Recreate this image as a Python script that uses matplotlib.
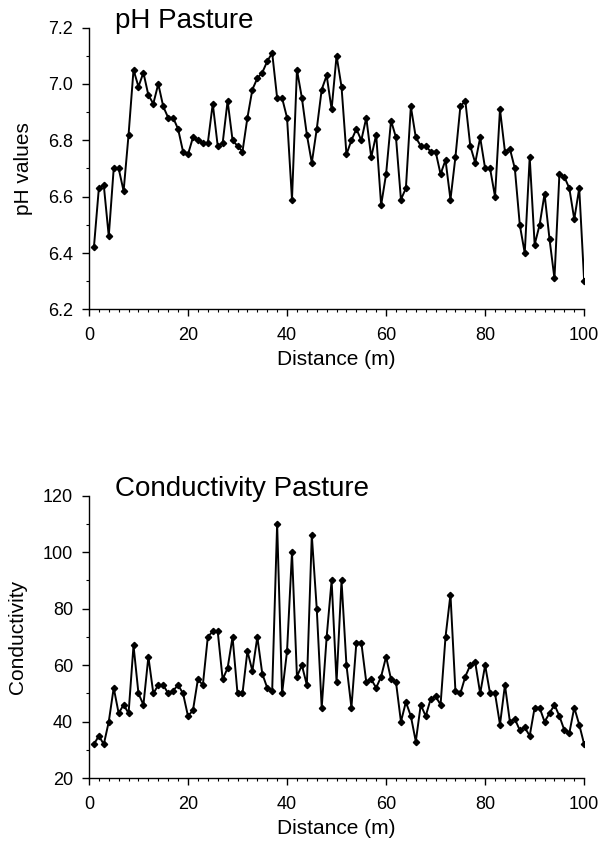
import matplotlib
matplotlib.use('Agg')
import matplotlib.pyplot as plt
from matplotlib.ticker import MultipleLocator

plt.rcParams['font.family'] = ['Liberation Sans', 'DejaVu Sans']

# distance along transect (m)
distance = list(range(1, 101))

# pH readings, one per metre
ph_values = [
    6.42, 6.63, 6.64, 6.46, 6.70, 6.70, 6.62, 6.82, 7.05, 6.99,
    7.04, 6.96, 6.93, 7.00, 6.92, 6.88, 6.88, 6.84, 6.76, 6.75,
    6.81, 6.80, 6.79, 6.79, 6.93, 6.78, 6.79, 6.94, 6.80, 6.78,
    6.76, 6.88, 6.98, 7.02, 7.04, 7.08, 7.11, 6.95, 6.95, 6.88,
    6.59, 7.05, 6.95, 6.82, 6.72, 6.84, 6.98, 7.03, 6.91, 7.10,
    6.99, 6.75, 6.80, 6.84, 6.80, 6.88, 6.74, 6.82, 6.57, 6.68,
    6.87, 6.81, 6.59, 6.63, 6.92, 6.81, 6.78, 6.78, 6.76, 6.76,
    6.68, 6.73, 6.59, 6.74, 6.92, 6.94, 6.78, 6.72, 6.81, 6.70,
    6.70, 6.60, 6.91, 6.76, 6.77, 6.70, 6.50, 6.40, 6.74, 6.43,
    6.50, 6.61, 6.45, 6.31, 6.68, 6.67, 6.63, 6.52, 6.63, 6.30,
]

# conductivity readings, one per metre
cond_values = [
    32, 35, 32, 40, 52, 43, 46, 43, 67, 50,
    46, 63, 50, 53, 53, 50, 51, 53, 50, 42,
    44, 55, 53, 70, 72, 72, 55, 59, 70, 50,
    50, 65, 58, 70, 57, 52, 51, 110, 50, 65,
    100, 56, 60, 53, 106, 80, 45, 70, 90, 54,
    90, 60, 45, 68, 68, 54, 55, 52, 56, 63,
    55, 54, 40, 47, 42, 33, 46, 42, 48, 49,
    46, 70, 85, 51, 50, 56, 60, 61, 50, 60,
    50, 50, 39, 53, 40, 41, 37, 38, 35, 45,
    45, 40, 43, 46, 42, 37, 36, 45, 39, 32,
]


def style_axes(ax, ymin, ymax, ymajor, yminor, fmt):
    ax.spines['top'].set_visible(False)
    ax.spines['right'].set_visible(False)
    ax.spines['left'].set_linewidth(1.0)
    ax.spines['bottom'].set_linewidth(1.0)
    ax.set_xlim(0, 100)
    ax.set_ylim(ymin, ymax)
    ax.xaxis.set_major_locator(MultipleLocator(20))
    ax.xaxis.set_minor_locator(MultipleLocator(2))
    ax.yaxis.set_major_locator(MultipleLocator(ymajor))
    ax.yaxis.set_minor_locator(MultipleLocator(yminor))
    ax.yaxis.set_major_formatter(fmt)
    ax.tick_params(which='major', direction='out', length=5, width=1.0,
                   labelsize=13)
    ax.tick_params(axis='y', which='major', pad=6.5)
    ax.tick_params(axis='x', which='major', pad=7.5)
    ax.tick_params(which='minor', direction='out', length=2.3, width=0.8)
    ax.set_xlabel('Distance (m)', fontsize=15, labelpad=4.5)


fig = plt.figure(figsize=(6.01, 8.41), dpi=100)

ax1 = fig.add_axes([0.148, 0.632, 0.824, 0.3353])
ax1.plot(distance, ph_values, color='black', linewidth=1.4,
         marker='D', markersize=3.2)
style_axes(ax1, 6.2, 7.2, 0.2, 0.1, '{x:.1f}')
ax1.set_ylabel('pH values', fontsize=15, labelpad=11)
ax1.text(0.053, 1.0, 'pH Pasture', transform=ax1.transAxes,
         fontsize=20, va='baseline', ha='left')

ax2 = fig.add_axes([0.148, 0.0746, 0.824, 0.336])
ax2.plot(distance, cond_values, color='black', linewidth=1.4,
         marker='D', markersize=3.2)
style_axes(ax2, 20, 120, 20, 10, '{x:.0f}')
ax2.set_ylabel('Conductivity', fontsize=15, labelpad=11)
ax2.text(0.053, 1.0, 'Conductivity Pasture', transform=ax2.transAxes,
         fontsize=20, va='baseline', ha='left')

fig.savefig('out.png', dpi=100)
